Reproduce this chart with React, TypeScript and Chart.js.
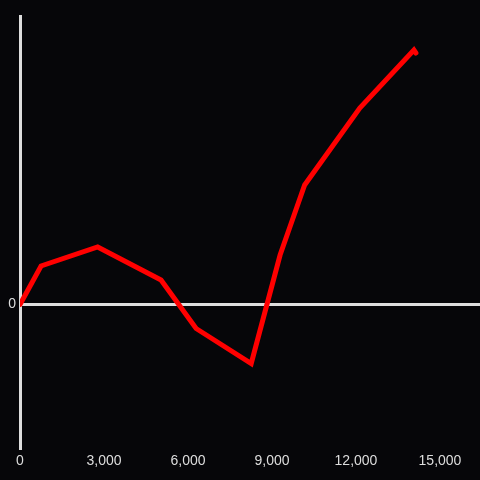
import React, { useEffect, useRef } from "react";
import { Chart, registerables } from "chart.js";

Chart.register(...registerables);

const xValues = [0, 752, 2774, 5037, 6290, 8259, 9290, 10167, 12136, 14069, 14141];
const yValues = [0, 38.5, 57.5, 24.5, -24, -59, 49.5, 119.5, 196.5, 254.5, 251.5];
const xTicks = [0, 3000, 6000, 9000, 12000, 15000];
const yTicks = [0];

export default function App() {
  const ref = useRef<HTMLCanvasElement>(null);
  useEffect(() => {
    const ctx = ref.current!;
    const chart = new Chart(ctx, {
      type: "line",
      data: {
        datasets: [
          {
            data: xValues.map((x, i) => ({ x, y: yValues[i] })),
            borderColor: "#ff0000",
            borderWidth: 5,
            pointRadius: 0,
            borderCapStyle: "round",
            tension: 0,
          },
        ],
      },
      options: {
        animation: false,
        responsive: false,
        maintainAspectRatio: false,
        layout: { padding: { top: 16, right: 0, left: 0, bottom: 0 } },
        plugins: { legend: { display: false }, tooltip: { enabled: false } },
        scales: {
          x: {
            type: "linear",
            min: 0,
            max: 16430,
            afterBuildTicks: (s: any) => {
              s.ticks = xTicks.map((v) => ({ value: v }));
            },
            afterFit: (s: any) => {
              s.height = 32;
            },
            grid: { display: false, drawTicks: false },
            border: { display: false },
            ticks: {
              color: "#dddddd",
              font: { family: "Liberation Sans", size: 14 },
              padding: 5,
              maxRotation: 0,
              autoSkip: false,
              callback: (v: any) => Number(v).toLocaleString("en-US"),
            },
          },
          y: {
            type: "linear",
            min: -143.5,
            max: 288.5,
            afterBuildTicks: (s: any) => {
              s.ticks = yTicks.map((v) => ({ value: v }));
            },
            afterFit: (s: any) => {
              s.width = 20;
            },
            grid: { color: "#dddddd", lineWidth: 3, drawTicks: false },
            border: { display: true, color: "#dddddd", width: 3 },
            ticks: {
              color: "#dddddd",
              font: { family: "Liberation Sans", size: 14 },
              padding: 4,
            },
          },
        },
      },
    });
    return () => chart.destroy();
  }, []);
  return (
    <div style={{ position: "fixed", left: 0, top: 0, width: 480, height: 480, background: "#060609" }}>
      <canvas ref={ref} width={480} height={480} />
    </div>
  );
}
